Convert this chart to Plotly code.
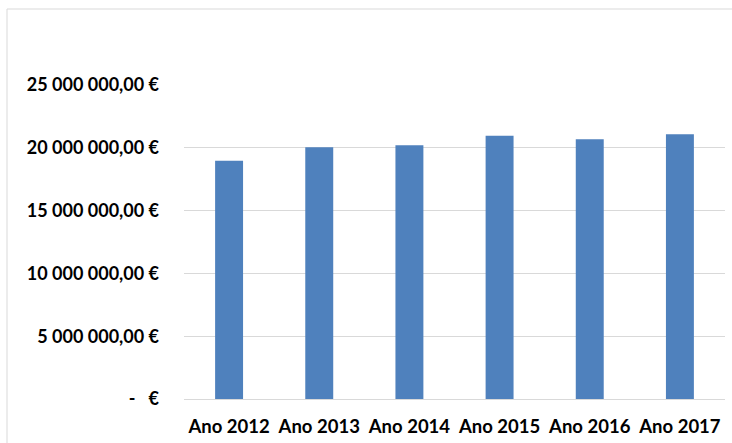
import plotly.graph_objects as go

categories = ["Ano 2012", "Ano 2013", "Ano 2014", "Ano 2015", "Ano 2016", "Ano 2017"]
values = [18960000, 20050000, 20200000, 20960000, 20690000, 21070000]
tick_vals = [0, 5000000, 10000000, 15000000, 20000000, 25000000]
tick_text = ["-   €", "5 000 000,00 €", "10 000 000,00 €", "15 000 000,00 €",
             "20 000 000,00 €", "25 000 000,00 €"]

W, H = 732, 443
L, R, T, B = 184, 7, 85, 44

fig = go.Figure(go.Bar(
    x=categories, y=values,
    marker=dict(color="#4F81BD", line=dict(width=0)),
    width=0.31,
))

fig.update_layout(
    width=W, height=H,
    margin=dict(l=L, r=R, t=T, b=B, pad=0),
    paper_bgcolor="white", plot_bgcolor="white",
    showlegend=False,
    font=dict(family="Lato", size=16, color="#000000"),
    xaxis=dict(
        showgrid=False, showline=False, zeroline=False,
        tickfont=dict(family="Lato", size=18.5, color="#000000", weight="bold"),
        ticks="", ticklabelstandoff=14,
    ),
    yaxis=dict(
        range=[0, 25000000],
        tickvals=tick_vals, ticktext=tick_text,
        showgrid=True, gridcolor="#d9d9d9", gridwidth=1,
        zeroline=True, zerolinecolor="#d9d9d9", zerolinewidth=1,
        showline=False,
        tickfont=dict(family="Lato", size=18, color="#000000", weight="bold"),
        ticks="", ticklabelstandoff=24,
    ),
)

pw = W - L - R
ph = H - T - B
x0 = (7 - L) / pw
y1 = (H - B - 9) / ph
fig.add_shape(type="line", xref="paper", yref="paper",
              x0=x0, x1=(W + 5 - L) / pw, y0=y1, y1=y1,
              line=dict(color="#d9d9d9", width=1))
fig.add_shape(type="line", xref="paper", yref="paper",
              x0=x0, x1=x0, y0=y1, y1=-(B + 5) / ph,
              line=dict(color="#d9d9d9", width=1))

fig.write_html("out.html", config={"displayModeBar": False},
               post_script="document.body.style.margin='0px';document.body.style.overflow='hidden';")
